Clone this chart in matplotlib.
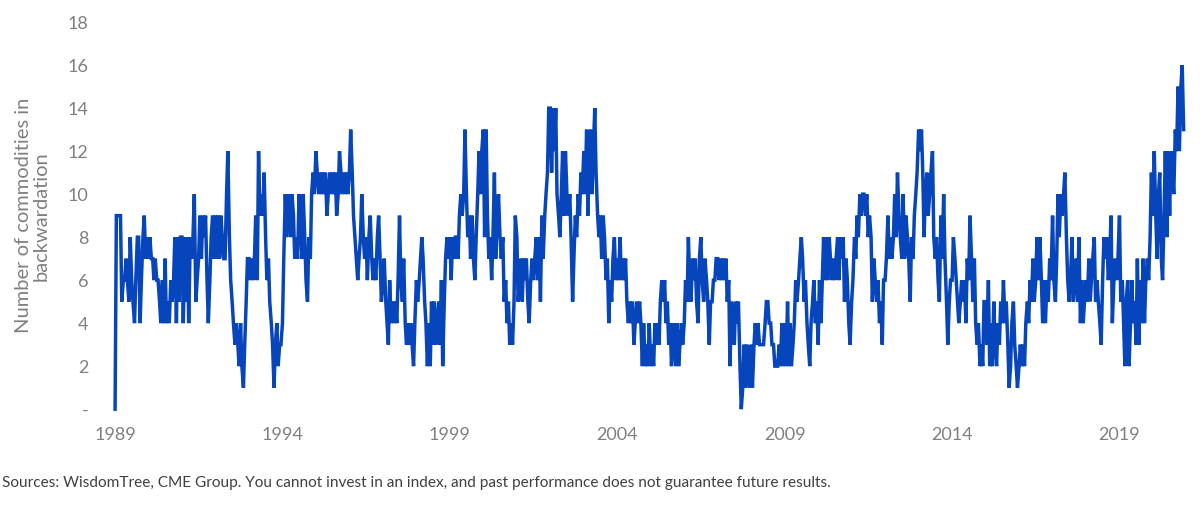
import pandas as pd
import matplotlib.pyplot as plt

# number of commodities in backwardation, two readings per month from Jan 1989
start = '1989-01-01'
counts = [
    0, 9, 9, 9, 9, 5, 6, 6, 7, 6, 5, 8, 6, 5, 4, 6, 8, 8, 4, 6, 8, 9, 7, 8,          # 1989
    7, 8, 7, 7, 6, 7, 6, 6, 5, 4, 6, 4, 7, 4, 5, 4, 6, 5, 6, 8, 4, 8, 5, 8,          # 1990
    8, 4, 8, 5, 8, 4, 8, 7, 8, 10, 5, 6, 7, 9, 7, 9, 8, 9, 6, 4, 6, 8, 9, 7,         # 1991
    9, 7, 9, 7, 9, 8, 7, 7, 10, 12, 8, 6, 5, 4, 3, 4, 3, 2, 4, 2, 1, 3, 5, 7,        # 1992
    7, 6, 7, 6, 7, 9, 6, 12, 9, 10, 9, 11, 8, 6, 7, 5, 4, 3, 1, 3, 4, 2, 3, 3,       # 1993
    4, 7, 10, 8, 10, 9, 8, 10, 9, 7, 8, 7, 10, 9, 7, 10, 8, 6, 5, 8, 7, 10, 11, 10,  # 1994
    12, 11, 10, 11, 10, 11, 10, 11, 9, 10, 11, 10, 11, 10, 11, 9, 10, 12, 11, 10, 11, 10, 11, 10,  # 1995
    11, 13, 11, 9, 8, 7, 6, 7, 8, 10, 8, 7, 8, 6, 8, 9, 7, 6, 7, 6, 8, 9, 7, 5,      # 1996
    6, 7, 5, 4, 3, 6, 4, 5, 4, 5, 4, 6, 9, 6, 5, 7, 4, 3, 4, 3, 4, 3, 2, 4,          # 1997
    6, 5, 6, 7, 8, 7, 5, 4, 2, 4, 2, 5, 3, 5, 3, 4, 5, 3, 6, 2, 5, 7, 8, 7,          # 1998
    8, 6, 8, 7, 8, 8, 7, 9, 10, 9, 10, 13, 10, 8, 9, 7, 9, 7, 6, 8, 10, 12, 10, 12,  # 1999
    13, 8, 13, 9, 7, 8, 6, 8, 11, 7, 9, 10, 8, 7, 8, 5, 6, 4, 5, 3, 4, 3, 5, 9,      # 2000
    8, 5, 6, 7, 5, 7, 6, 7, 5, 4, 6, 7, 6, 7, 8, 6, 8, 5, 9, 7, 9, 10, 11, 14,       # 2001
    14, 11, 14, 12, 14, 10, 9, 8, 10, 12, 9, 12, 10, 9, 10, 8, 5, 7, 9, 8, 10, 9, 11, 10,  # 2002
    12, 10, 13, 9, 12, 13, 10, 12, 14, 11, 9, 8, 9, 7, 9, 8, 6, 7, 4, 6, 5, 7, 8, 6,  # 2003
    7, 6, 8, 6, 7, 6, 7, 5, 4, 5, 4, 5, 3, 4, 5, 4, 5, 4, 2, 4, 2, 3, 2, 4,          # 2004
    2, 3, 2, 4, 3, 4, 3, 5, 6, 5, 6, 4, 5, 3, 4, 2, 4, 3, 2, 4, 2, 3, 4, 3,          # 2005
    4, 6, 5, 8, 6, 5, 7, 6, 7, 5, 4, 7, 8, 6, 5, 7, 6, 5, 3, 5, 5, 6, 6, 7,          # 2006
    7, 6, 7, 6, 7, 6, 7, 5, 6, 2, 5, 4, 3, 5, 4, 5, 2, 0, 1, 3, 1, 3, 2, 1,          # 2007
    3, 1, 3, 4, 3, 4, 3, 3, 3, 3, 4, 5, 5, 4, 4, 3, 3, 2, 2, 2, 3, 2, 4, 2,          # 2008
    4, 2, 5, 2, 4, 2, 3, 4, 6, 5, 6, 7, 8, 7, 5, 6, 4, 3, 2, 4, 5, 6, 4, 5,          # 2009
    3, 6, 4, 6, 8, 6, 8, 6, 8, 7, 6, 7, 6, 7, 8, 6, 8, 7, 8, 5, 7, 6, 4, 3,          # 2010
    5, 6, 8, 7, 9, 8, 10, 9, 10, 10, 9, 10, 8, 9, 8, 5, 7, 6, 5, 6, 4, 5, 3, 6,      # 2011
    6, 7, 9, 7, 8, 7, 8, 10, 8, 11, 9, 8, 7, 10, 7, 9, 8, 7, 5, 8, 7, 9, 10, 11,     # 2012
    13, 12, 13, 11, 8, 10, 11, 9, 10, 11, 12, 8, 7, 8, 6, 5, 9, 7, 10, 7, 5, 3, 5, 6,  # 2013
    6, 8, 7, 6, 5, 4, 5, 6, 5, 6, 4, 7, 6, 9, 7, 5, 7, 4, 3, 4, 2, 3, 2, 5,          # 2014
    5, 3, 6, 2, 4, 2, 5, 3, 2, 4, 3, 5, 4, 6, 4, 5, 3, 1, 2, 4, 5, 3, 2, 1,          # 2015
    2, 3, 2, 3, 2, 4, 5, 4, 6, 5, 7, 5, 6, 8, 6, 8, 6, 4, 6, 4, 6, 5, 7, 6,          # 2016
    9, 6, 5, 7, 10, 8, 10, 9, 10, 11, 8, 6, 5, 6, 8, 5, 6, 7, 5, 8, 4, 6, 4, 5,      # 2017
    6, 5, 7, 5, 6, 7, 8, 5, 6, 5, 4, 3, 6, 8, 7, 8, 6, 7, 9, 4, 6, 7, 6, 7,          # 2018
    9, 5, 6, 4, 2, 5, 6, 2, 4, 6, 4, 5, 3, 7, 3, 6, 4, 7, 4, 6, 7, 6, 8, 11,         # 2019
    9, 12, 9, 7, 10, 11, 7, 6, 9, 12, 8, 12, 9, 12, 11, 10, 13, 12, 15, 12, 15, 16, 13,  # 2020
]
year_ticks = [1989, 1994, 1999, 2004, 2009, 2014, 2019]
y_ticks = [0, 2, 4, 6, 8, 10, 12, 14, 16, 18]
y_labels = ['-', '2', '4', '6', '8', '10', '12', '14', '16', '18']

dates = pd.date_range(start, periods=len(counts), freq='SMS')

plt.rcParams['font.family'] = ['Lato', 'DejaVu Sans']

fig = plt.figure(figsize=(12, 5.05), dpi=100)
ax = fig.add_axes([0.0875, 0.177, 0.904, 0.792])

ax.plot(dates, counts, color='#0645bb', linewidth=2.5, solid_joinstyle='miter')

ax.set_xlim(pd.Timestamp('1988-09-13'), pd.Timestamp('2021-02-06'))
ax.set_ylim(-0.3, 18.3)
ax.set_xticks([pd.Timestamp(f'{y}-01-01') for y in year_ticks])
ax.set_xticklabels([str(y) for y in year_ticks])
ax.set_yticks(y_ticks)
ax.set_yticklabels(y_labels)
ax.tick_params(axis='both', length=0, labelsize=13, labelcolor='#808080')
ax.tick_params(axis='y', pad=12)
ax.tick_params(axis='x', pad=8)
for s in ax.spines.values():
    s.set_visible(False)

ax.set_ylabel('Number of commodities in\nbackwardation', fontsize=14.5,
              color='#808080', labelpad=13, linespacing=1.0)

fig.text(0.002, 0.043, 'Sources: WisdomTree, CME Group. You cannot invest in an index, '
         'and past performance does not guarantee future results.',
         fontsize=11.1, color='#404040', va='center')

plt.savefig('out.png', dpi=100)
